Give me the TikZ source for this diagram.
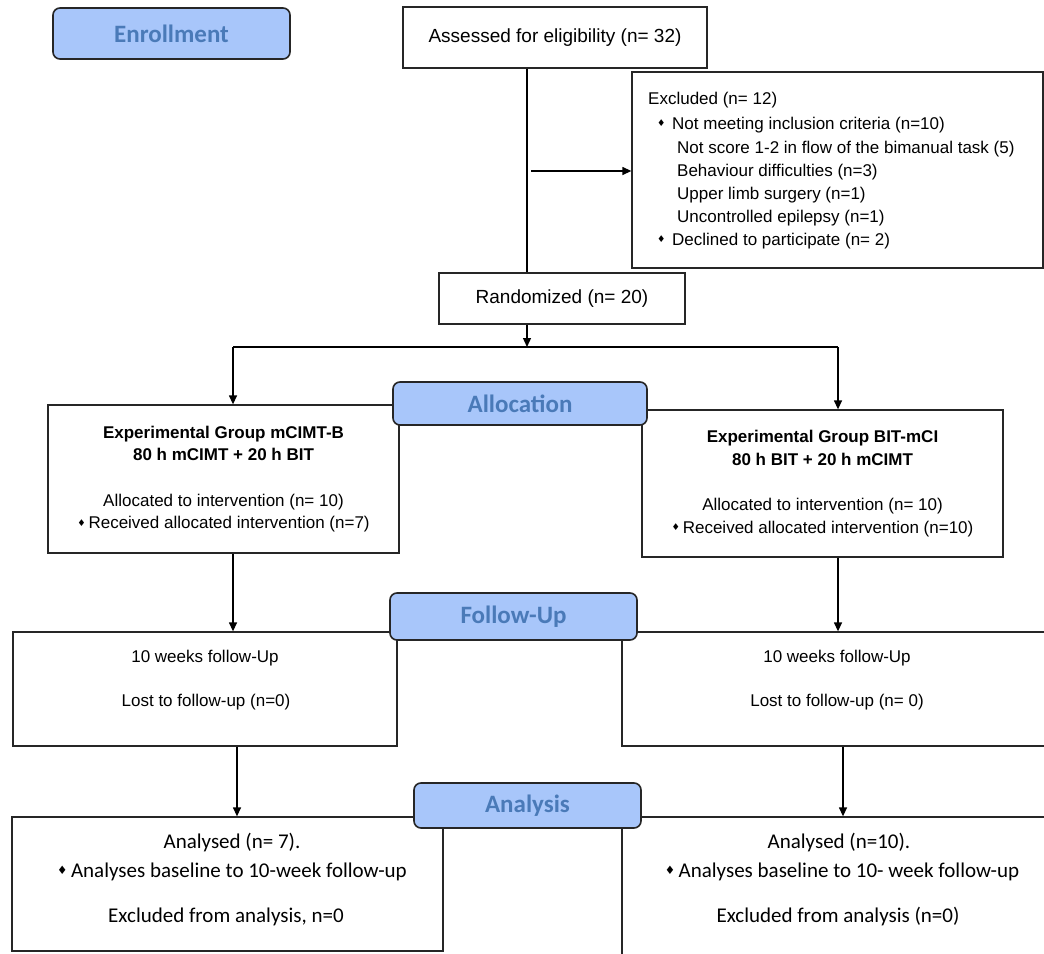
\documentclass[tikz,border=0pt]{standalone}
\usepackage{fontspec}
\usepackage{graphicx}
\setmainfont{Liberation Sans}
\newfontfamily\calib{Carlito}
\newfontfamily\symf{DejaVu Sans}
\usetikzlibrary{arrows.meta}
\definecolor{hdrfill}{HTML}{A8C6FA}
\definecolor{hdrtext}{HTML}{4A7AB8}
\definecolor{edgecol}{HTML}{262626}
\newcommand\dbul{\raisebox{0.28ex}{\scalebox{0.55}{\symf ♦}}}
\newcommand\blt{\makebox[15pt][l]{\dbul}}
\tikzset{
  box/.style={draw=edgecol, line width=1.3pt, fill=white, inner sep=0pt},
  hdr/.style={draw=edgecol, line width=1.6pt, rounded corners=7pt, fill=hdrfill,
              text=hdrtext, inner sep=0pt, font={\calib\bfseries\fontsize{25}{30}\selectfont}},
  ln/.style={draw=black, line width=1.3pt},
  arr/.style={ln, -{Triangle[length=9pt,width=8pt]}},
  big/.style={font={\fontsize{19}{23}\selectfont}},
  mid/.style={font={\fontsize{17}{22.5}\selectfont}},
  ana/.style={font={\calib\fontsize{21}{26}\selectfont}},
  txt/.style={inner sep=0pt}
}
\begin{document}
\begin{tikzpicture}[x=1pt,y=-1pt]
\useasboundingbox (0,0) rectangle (1044,953);
\fill[white] (0,0) rectangle (1044,953);
\clip (0,0) rectangle (1044,953);

% Enrollment
\node[hdr, minimum width=237, minimum height=51] (enr) at (171.5,33.5) {Enrollment};

% Assessed
\node[box, big, minimum width=304, minimum height=61] (ass) at (555,37.5) {Assessed for eligibility (n= 32)};

% Excluded
\node[box, minimum width=411, minimum height=196] (exc) at (837.5,170) {};
\node[txt, mid, anchor=base west] (ex1) at (648,104) {Excluded (n= 12)};
\node[txt, mid, anchor=base west] (ex2) at (657,129) {\blt Not meeting inclusion criteria (n=10)};
\node[txt, mid, anchor=base west] (ex3) at (677,153) {Not score 1-2 in flow of the bimanual task (5)};
\node[txt, mid, anchor=base west] (ex4) at (677,176) {Behaviour difficulties (n=3)};
\node[txt, mid, anchor=base west] (ex5) at (677,199) {Upper limb surgery (n=1)};
\node[txt, mid, anchor=base west] (ex6) at (677,222) {Uncontrolled epilepsy (n=1)};
\node[txt, mid, anchor=base west] (ex7) at (657,245) {\blt Declined to participate (n= 2)};

% Randomized
\node[box, big, minimum width=246, minimum height=51] (rnd) at (562,298.5) {Randomized (n= 20)};

% Group boxes
\node[box, mid, align=center, minimum width=351, minimum height=148] (g1) at (223.5,479)
  {\textbf{Experimental Group mCIMT-B}\\\textbf{80 h mCIMT + 20 h BIT}\\[23pt]Allocated to intervention (n= 10)\\\dbul\,Received allocated intervention (n=7)};
\node[box, mid, align=center, minimum width=361, minimum height=147] (g2) at (822.5,483.5)
  {\textbf{Experimental Group BIT-mCI}\\\textbf{80 h BIT + 20 h mCIMT}\\[23pt]Allocated to intervention (n= 10)\\\dbul\,Received allocated intervention (n=10)};
\node[hdr, minimum width=254, minimum height=43] (alloc) at (520,403.5) {Allocation};

% Follow-up boxes
\node[box, minimum width=384, minimum height=114] (f1) at (205,689) {};
\node[box, minimum width=438, minimum height=114] (f2) at (841,689) {};
\node[txt, mid] (f1a) at (205,658) {10 weeks follow-Up};
\node[txt, mid] (f1b) at (206,702) {Lost to follow-up (n=0)};
\node[txt, mid] (f2a) at (837,658) {10 weeks follow-Up};
\node[txt, mid] (f2b) at (837,702) {Lost to follow-up (n= 0)};
\node[hdr, minimum width=247, minimum height=47] (fup) at (513.5,616.5) {Follow-Up};

% Analysis boxes
\node[box, minimum width=431, minimum height=134] (an1) at (227.5,884) {};
\node[box, minimum width=438, minimum height=160] (an2) at (841,897) {};
\node[txt, ana] (a1a) at (232,843) {Analysed (n= 7).};
\node[txt, ana] (a1b) at (232,872) {\dbul\,Analyses baseline to 10-week follow-up};
\node[txt, ana] (a1c) at (226,917) {Excluded from analysis, n=0};
\node[txt, ana] (a2a) at (839,843) {Analysed (n=10).};
\node[txt, ana] (a2b) at (842,872) {\dbul\,Analyses baseline to 10- week follow-up};
\node[txt, ana] (a2c) at (838,917) {Excluded from analysis (n=0)};
\node[hdr, minimum width=227, minimum height=45] (ahd) at (527.5,805.5) {Analysis};

% Connectors
\coordinate (sp) at (527,0);
\draw[ln] (sp |- ass.south) -- (sp |- rnd.north);
\coordinate (ex0) at (531,171);
\draw[arr] (ex0) -- (ex0 -| exc.west);
\coordinate (sl) at (233,347);
\coordinate (sr) at (838,347);
\draw[arr] (sp |- rnd.south) -- (sp |- sl);
\draw[ln] (sl) -- (sr);
\draw[arr] (sl) -- (sl |- g1.north);
\draw[arr] (sr) -- (sr |- g2.north);
\draw[arr] (sl |- g1.south) -- (sl |- f1.north);
\draw[arr] (sr |- g2.south) -- (sr |- f2.north);
\coordinate (ql) at (237,0);
\coordinate (qr) at (843,0);
\draw[arr] (ql |- f1.south) -- (ql |- an1.north);
\draw[arr] (qr |- f2.south) -- (qr |- an2.north);
\end{tikzpicture}
\end{document}
